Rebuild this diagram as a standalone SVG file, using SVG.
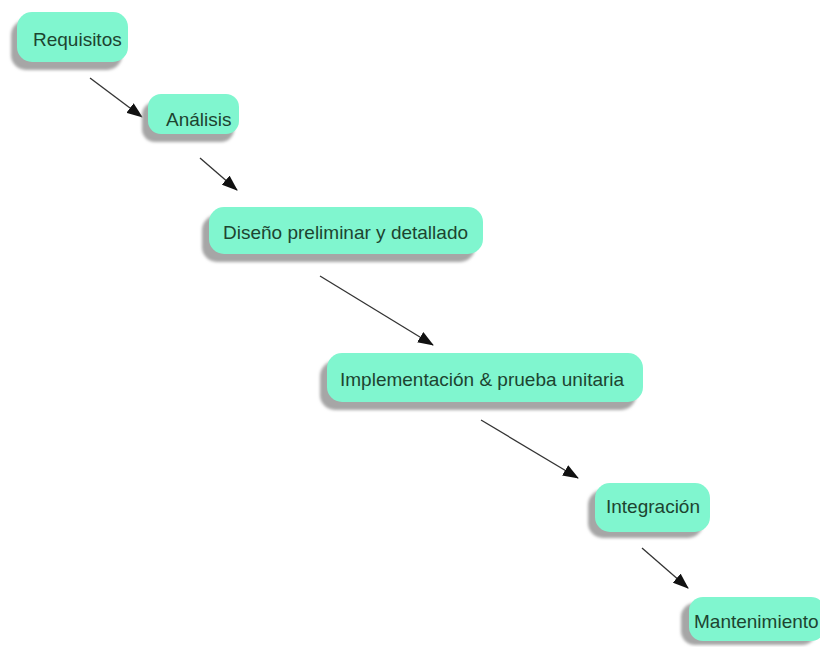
<svg xmlns="http://www.w3.org/2000/svg" width="820" height="647" viewBox="0 0 820 647">
<defs>
<style>
.box{fill:#80f6cf}
.shadow{fill:#a6a6a6;filter:url(#blur)}
.lbl{font-family:"Liberation Sans",Arial,sans-serif;font-size:19px;fill:#1d4430}
.conn{stroke:#333;stroke-width:1.3;fill:none;marker-end:url(#arrow)}
</style>
<filter id="blur" x="-10%" y="-20%" width="120%" height="140%"><feGaussianBlur stdDeviation="1.5"/></filter>
<marker id="arrow" viewBox="0 0 16 12" refX="15" refY="6" markerWidth="16" markerHeight="12" markerUnits="userSpaceOnUse" orient="auto">
<path d="M0,0 L16,6 L0,12 Z" fill="#111"/>
</marker>
</defs>
<rect width="820" height="647" fill="#fff"/>
<g id="connectors">
<line class="conn" x1="90" y1="78" x2="142" y2="117"/>
<line class="conn" x1="200" y1="158" x2="237" y2="190"/>
<line class="conn" x1="320" y1="276" x2="433" y2="345"/>
<line class="conn" x1="481" y1="420" x2="578" y2="478"/>
<line class="conn" x1="642" y1="548" x2="688" y2="588"/>
</g>
<g id="requisitos">
<rect class="shadow" x="11" y="20" width="111" height="50" rx="15"/>
<rect class="box" x="17" y="12" width="111" height="50" rx="15"/>
<text class="lbl" x="33" y="46">Requisitos</text>
</g>
<g id="analisis">
<rect class="shadow" x="142" y="102" width="92" height="40" rx="13"/>
<rect class="box" x="148" y="94" width="91" height="40" rx="13"/>
<text class="lbl" x="166" y="126">Análisis</text>
</g>
<g id="diseno">
<rect class="shadow" x="202" y="215" width="273" height="47" rx="15"/>
<rect class="box" x="209" y="207" width="274" height="47" rx="15"/>
<text class="lbl" x="223" y="239">Diseño preliminar y detallado</text>
</g>
<g id="implementacion">
<rect class="shadow" x="320" y="361" width="316" height="49" rx="15"/>
<rect class="box" x="327" y="353" width="316" height="49" rx="15"/>
<text class="lbl" x="340" y="386">Implementación &amp; prueba unitaria</text>
</g>
<g id="integracion">
<rect class="shadow" x="588" y="490" width="115" height="48" rx="15"/>
<rect class="box" x="595" y="483" width="115" height="49" rx="15"/>
<text class="lbl" x="606" y="513">Integración</text>
</g>
<g id="mantenimiento">
<rect class="shadow" x="681" y="603" width="135" height="42" rx="14"/>
<rect class="box" x="689" y="597" width="136" height="44" rx="14"/>
<text class="lbl" x="694" y="628">Mantenimiento</text>
</g>
</svg>
